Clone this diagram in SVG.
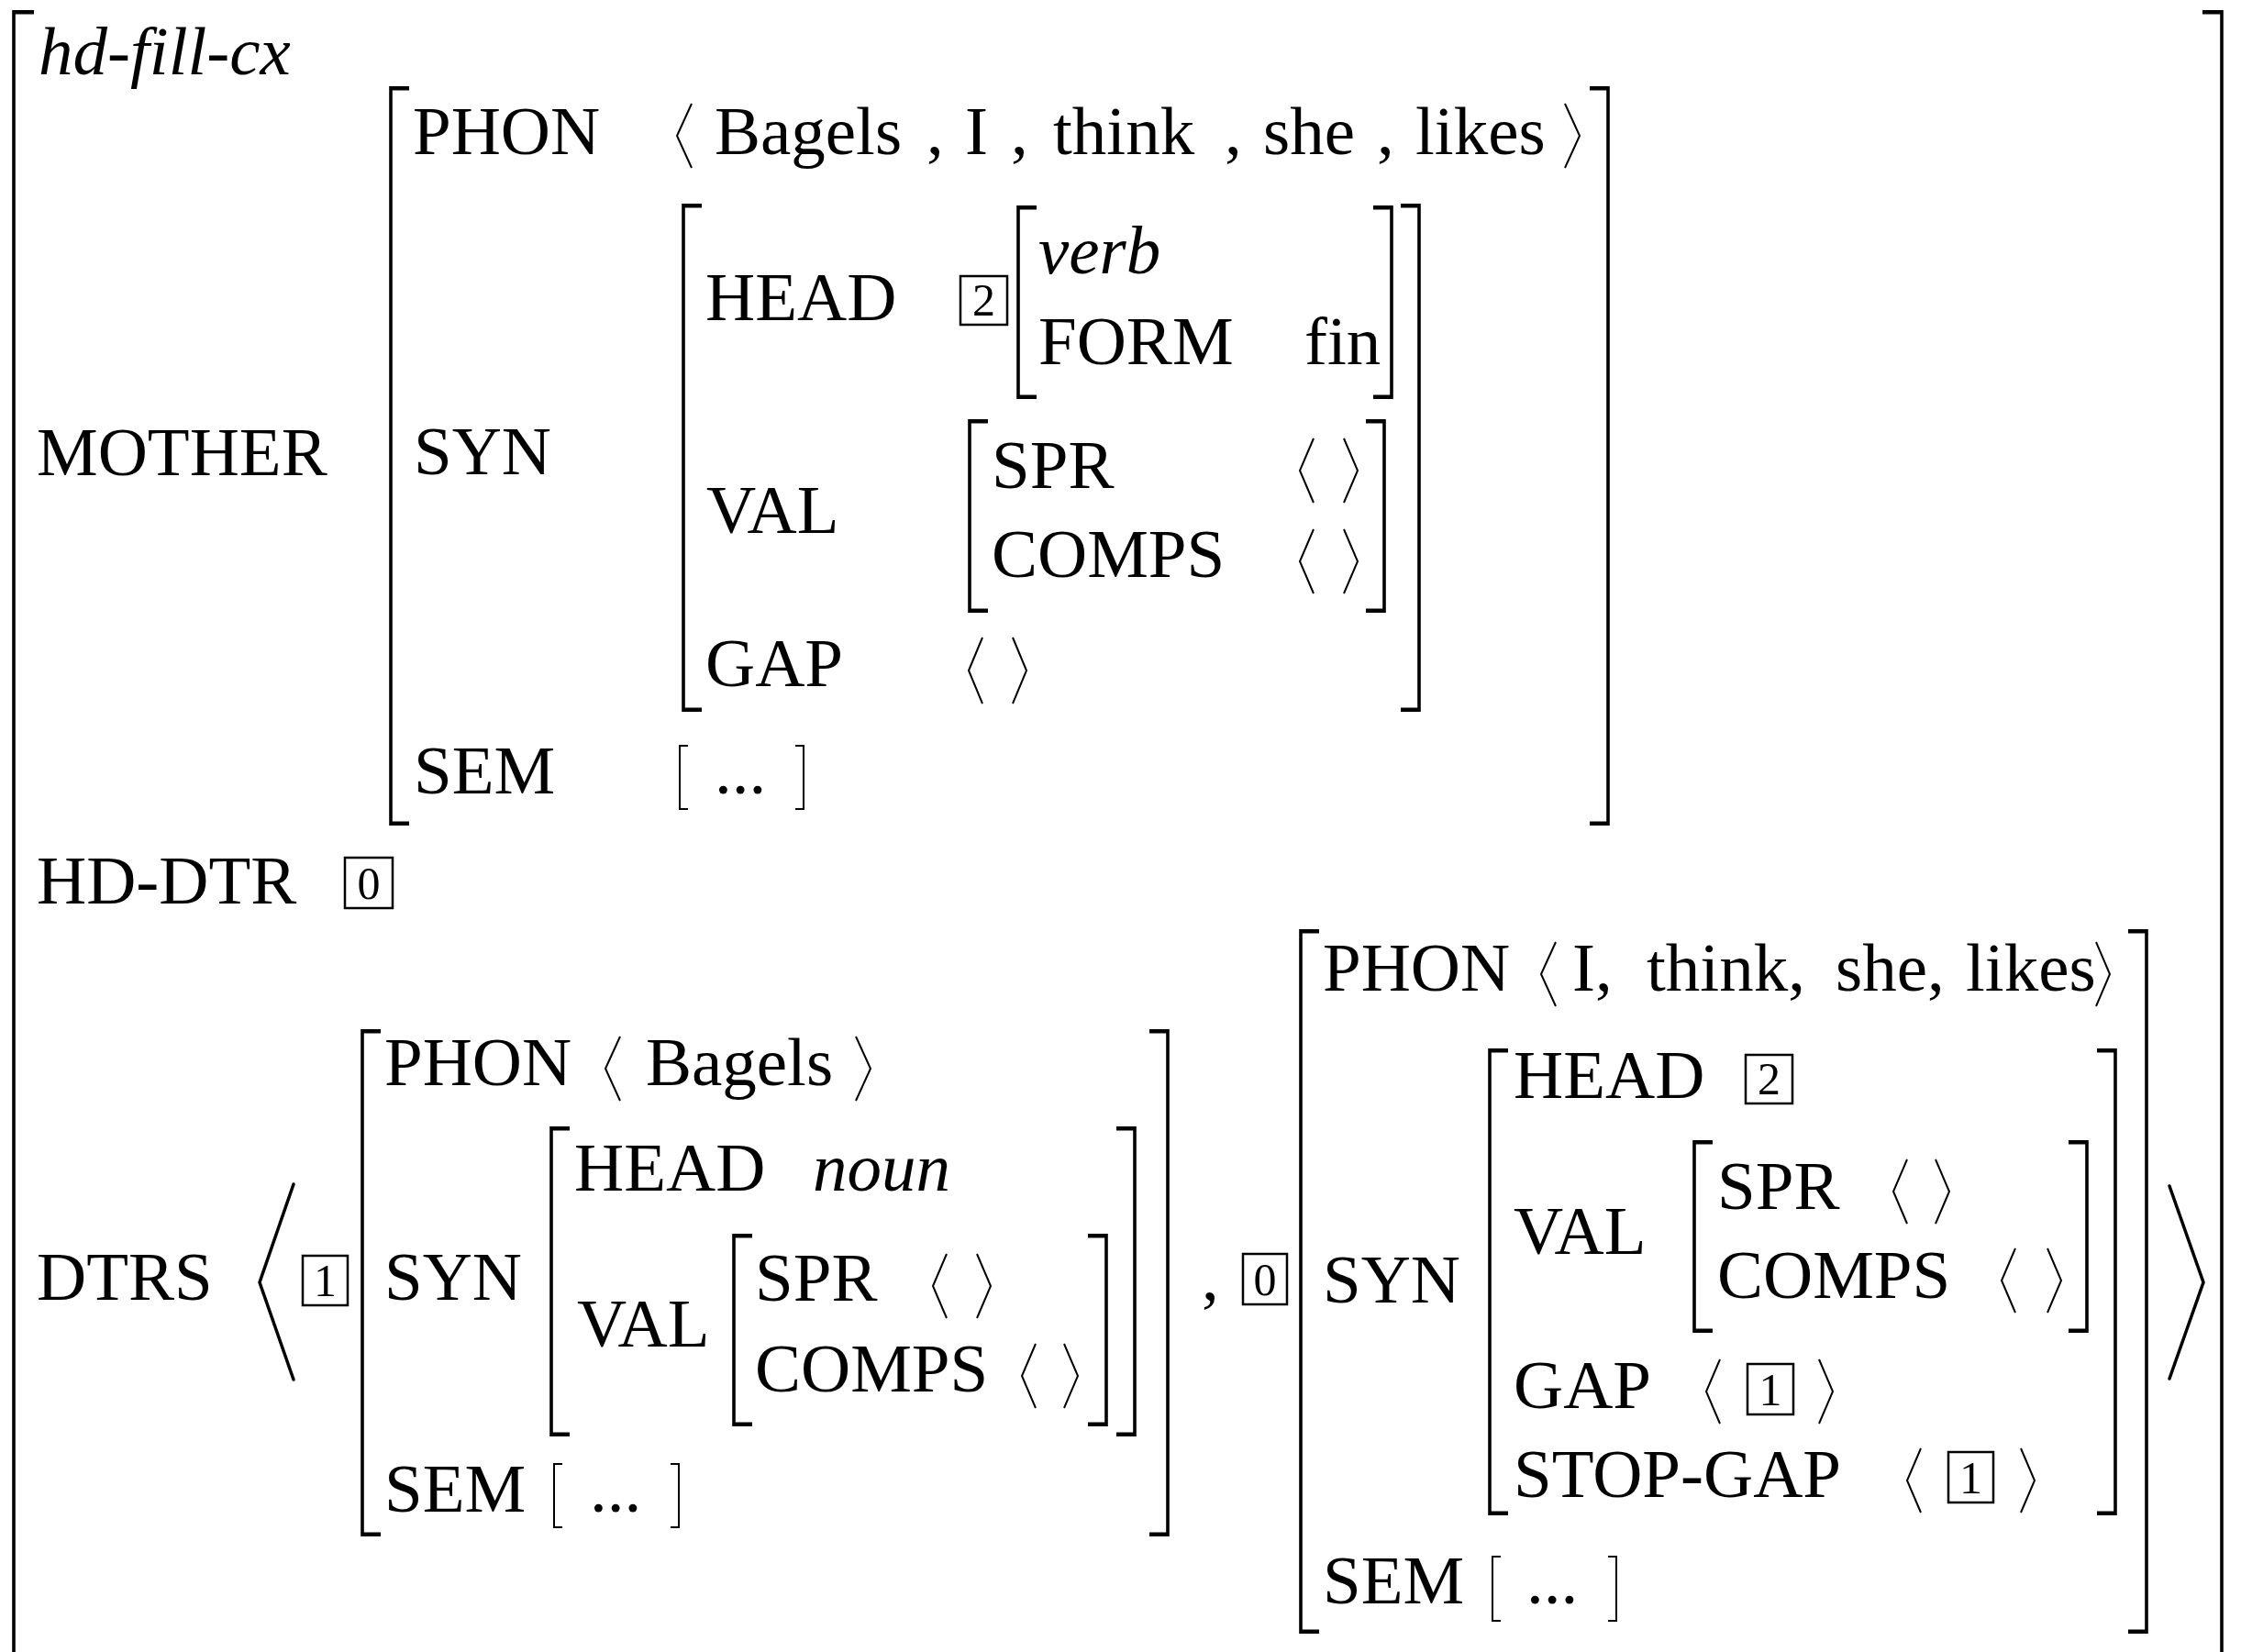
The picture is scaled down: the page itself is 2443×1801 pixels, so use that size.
<svg xmlns="http://www.w3.org/2000/svg" width="2443" height="1801" viewBox="0 0 2443 1801">
<style>
  text { font-family: "Liberation Serif", "Times New Roman", serif; font-size: 75px; fill: #000; }
  .it { font-style: italic; }
  .tag { font-size: 50px; text-anchor: middle; }
  .br { fill: #000; stroke: none; }
  .sb { fill: none; stroke: #000; stroke-width: 2; }
  .ang { fill: none; stroke: #000; stroke-width: 2; stroke-linejoin: miter; }
  .bigang { fill: none; stroke: #000; stroke-width: 3.5; stroke-linecap: round; }
  .box { fill: none; stroke: #000; stroke-width: 2.5; }
</style>
<rect width="2443" height="1801" fill="#fff"/>

<g id="outer">
  <path class="br" d="M13.2,11 H37 V15.5 H16.8 V1801 H13.2 Z"/>
  <path class="br" d="M2423.8,11 H2401 V15.5 H2420.2 V1801 H2423.8 Z"/>
  <text class="it" x="42" y="81">hd-fill-cx</text>
</g>

<g id="mother">
  <text x="40" y="518">MOTHER</text>
  <path class="br" d="M424.2,94 H446 V98.5 H427.8 V895.5 H446 V900 H424.2 Z"/>
  <path class="br" d="M1754.8,94 H1733 V98.5 H1751.2 V895.5 H1733 V900 H1754.8 Z"/>
  <g id="mother-phon">
    <text x="450" y="168">PHON</text>
    <polyline class="ang" points="754,113 738,148 754,183"/>
    <text y="168"><tspan x="779">Bagels</tspan><tspan x="1010">,</tspan><tspan x="1052">I</tspan><tspan x="1102">,</tspan><tspan x="1148">think</tspan><tspan x="1335">,</tspan><tspan x="1377">she</tspan><tspan x="1501">,</tspan><tspan x="1543">likes</tspan></text>
    <polyline class="ang" points="1706,113 1722,148 1706,183"/>
  </g>
  <g id="mother-syn">
    <text x="451" y="517">SYN</text>
    <path class="br" d="M743.2,222 H765 V226.5 H746.8 V771.5 H765 V776 H743.2 Z"/>
    <path class="br" d="M1548.8,222 H1527 V226.5 H1545.2 V771.5 H1527 V776 H1548.8 Z"/>
    <g id="mother-head">
      <text x="769" y="349">HEAD</text>
      <rect class="box" x="1047" y="301" width="51" height="53"/>
      <text class="tag" x="1072.5" y="344">2</text>
      <path class="br" d="M1108.2,224 H1130 V228.5 H1111.8 V430.5 H1130 V435 H1108.2 Z"/>
      <path class="br" d="M1518.8,224 H1497 V228.5 H1515.2 V430.5 H1497 V435 H1518.8 Z"/>
      <text class="it" x="1132" y="298">verb</text>
      <text x="1132" y="397">FORM</text>
      <text x="1422" y="397">fin</text>
    </g>
    <g id="mother-val">
      <text x="770" y="581">VAL</text>
      <path class="br" d="M1055.2,457 H1077 V461.5 H1058.8 V663.5 H1077 V668 H1055.2 Z"/>
      <path class="br" d="M1510.8,457 H1489 V461.5 H1507.2 V663.5 H1489 V668 H1510.8 Z"/>
      <text x="1081" y="532">SPR</text>
      <polyline class="ang" points="1432,478 1417,513 1432,548"/>
      <polyline class="ang" points="1465,478 1480,513 1465,548"/>
      <text x="1081" y="629">COMPS</text>
      <polyline class="ang" points="1432,577 1417,612 1432,647"/>
      <polyline class="ang" points="1465,577 1480,612 1465,647"/>
    </g>
    <g id="mother-gap">
      <text x="769" y="748">GAP</text>
      <polyline class="ang" points="1071,695 1056,731 1071,767"/>
      <polyline class="ang" points="1104,695 1119,731 1104,767"/>
    </g>
  </g>
  <g id="mother-sem">
    <text x="451" y="865">SEM</text>
    <polyline class="sb" points="750,813 741,813 741,882 750,882"/>
    <text x="779" y="865">...</text>
    <polyline class="sb" points="867,813 876,813 876,882 867,882"/>
  </g>
</g>

<g id="hd-dtr">
  <text x="40" y="985">HD-DTR</text>
  <rect class="box" x="376" y="935" width="52" height="55"/>
  <text class="tag" x="402" y="980">0</text>
</g>

<g id="dtrs">
  <text x="40" y="1417">DTRS</text>
  <polyline class="bigang" points="320,1291 283,1398 320,1504"/>
  <rect class="box" x="330" y="1369" width="49" height="54"/>
  <text class="tag" x="354.5" y="1413">1</text>

  <g id="dtr1">
    <path class="br" d="M393.2,1122 H415 V1126.5 H396.8 V1670.5 H415 V1675 H393.2 Z"/>
    <path class="br" d="M1274.8,1122 H1253 V1126.5 H1271.2 V1670.5 H1253 V1675 H1274.8 Z"/>
    <text x="419" y="1183">PHON</text>
    <polyline class="ang" points="676,1130 660,1165 676,1200"/>
    <text x="704" y="1183">Bagels</text>
    <polyline class="ang" points="933,1130 949,1165 933,1200"/>
    <text x="419" y="1417">SYN</text>
    <path class="br" d="M599.2,1228 H621 V1232.5 H602.8 V1561.5 H621 V1566 H599.2 Z"/>
    <path class="br" d="M1238.8,1228 H1217 V1232.5 H1235.2 V1561.5 H1217 V1566 H1238.8 Z"/>
    <text x="626" y="1298">HEAD</text>
    <text class="it" x="886" y="1298">noun</text>
    <text x="629" y="1468">VAL</text>
    <path class="br" d="M798.2,1345 H820 V1349.5 H801.8 V1550.5 H820 V1555 H798.2 Z"/>
    <path class="br" d="M1207.8,1345 H1186 V1349.5 H1204.2 V1550.5 H1186 V1555 H1207.8 Z"/>
    <text x="823" y="1418">SPR</text>
    <polyline class="ang" points="1032,1367 1017,1402 1032,1437"/>
    <polyline class="ang" points="1065,1367 1080,1402 1065,1437"/>
    <text x="823" y="1517">COMPS</text>
    <polyline class="ang" points="1129,1465 1114,1500 1129,1535"/>
    <polyline class="ang" points="1160,1465 1175,1500 1160,1535"/>
    <text x="419" y="1648">SEM</text>
    <polyline class="sb" points="613,1596 604,1596 604,1665 613,1665"/>
    <text x="643" y="1648">...</text>
    <polyline class="sb" points="731,1596 740,1596 740,1665 731,1665"/>
  </g>

  <text x="1310" y="1417">,</text>
  <rect class="box" x="1355" y="1367" width="48" height="55"/>
  <text class="tag" x="1379" y="1412">0</text>

  <g id="dtr2">
    <path class="br" d="M1416.2,1013 H1438 V1017.5 H1419.8 V1776.5 H1438 V1781 H1416.2 Z"/>
    <path class="br" d="M2341.8,1013 H2320 V1017.5 H2338.2 V1776.5 H2320 V1781 H2341.8 Z"/>
    <text x="1442" y="1080">PHON</text>
    <polyline class="ang" points="1696,1027 1680,1062 1696,1097"/>
    <text y="1080"><tspan x="1714">I,</tspan><tspan x="1795">think,</tspan><tspan x="2001">she,</tspan><tspan x="2143">likes</tspan></text>
    <polyline class="ang" points="2285,1027 2300,1062 2285,1097"/>
    <text x="1442" y="1420">SYN</text>
    <path class="br" d="M1622.2,1143 H1644 V1147.5 H1625.8 V1647.5 H1644 V1652 H1622.2 Z"/>
    <path class="br" d="M2307.8,1143 H2286 V1147.5 H2304.2 V1647.5 H2286 V1652 H2307.8 Z"/>
    <text x="1650" y="1197">HEAD</text>
    <rect class="box" x="1903" y="1150" width="51" height="53"/>
    <text class="tag" x="1928.5" y="1193">2</text>
    <text x="1650" y="1367">VAL</text>
    <path class="br" d="M1845.2,1243 H1867 V1247.5 H1848.8 V1448.5 H1867 V1453 H1845.2 Z"/>
    <path class="br" d="M2276.8,1243 H2255 V1247.5 H2273.2 V1448.5 H2255 V1453 H2276.8 Z"/>
    <text x="1872" y="1318">SPR</text>
    <polyline class="ang" points="2079,1264 2064,1299 2079,1334"/>
    <polyline class="ang" points="2110,1264 2125,1299 2110,1334"/>
    <text x="1872" y="1415">COMPS</text>
    <polyline class="ang" points="2197,1361 2182,1396 2197,1431"/>
    <polyline class="ang" points="2232,1361 2247,1396 2232,1431"/>
    <text x="1650" y="1535">GAP</text>
    <polyline class="ang" points="1875,1482 1860,1517 1875,1552"/>
    <rect class="box" x="1905" y="1487" width="50" height="55"/>
    <text class="tag" x="1930" y="1532">1</text>
    <polyline class="ang" points="1983,1482 1998,1517 1983,1552"/>
    <text x="1650" y="1632">STOP-GAP</text>
    <polyline class="ang" points="2094,1579 2079,1614 2094,1649"/>
    <rect class="box" x="2124" y="1583" width="49" height="55"/>
    <text class="tag" x="2148.5" y="1628">1</text>
    <polyline class="ang" points="2203,1579 2218,1614 2203,1649"/>
    <text x="1442" y="1748">SEM</text>
    <polyline class="sb" points="1636,1697 1627,1697 1627,1767 1636,1767"/>
    <text x="1664" y="1748">...</text>
    <polyline class="sb" points="1753,1697 1762,1697 1762,1767 1753,1767"/>
  </g>
  <polyline class="bigang" points="2365,1293 2402,1398 2365,1503"/>
</g>
</svg>
